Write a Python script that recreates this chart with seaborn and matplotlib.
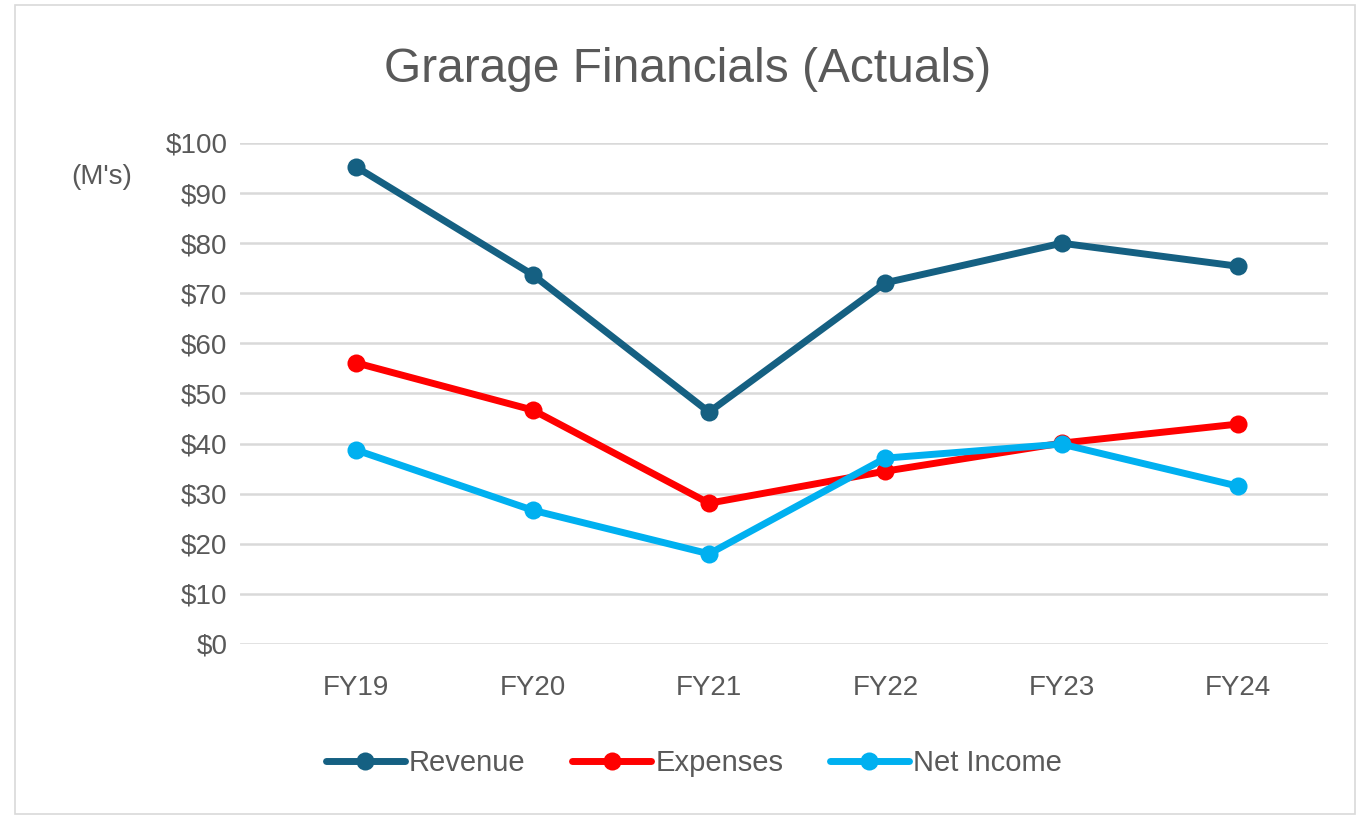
import pandas as pd
import matplotlib.pyplot as plt
import seaborn as sns
from matplotlib.patches import Rectangle

# Values, $M
years = ['FY19', 'FY20', 'FY21', 'FY22', 'FY23', 'FY24']
revenue = [95.2, 73.7, 46.3, 72.1, 80.0, 75.4]
expenses = [56.1, 46.7, 28.1, 34.5, 40.1, 43.9]
net_income = [38.7, 26.7, 18.0, 37.1, 39.9, 31.5]
series_names = ['Revenue', 'Expenses', 'Net Income']
colors = ['#156082', '#FF0000', '#00B0F0']
y_ticks = [0, 10, 20, 30, 40, 50, 60, 70, 80, 90, 100]

sns.set_theme(style='white')
plt.rcParams['font.family'] = ['Liberation Sans', 'DejaVu Sans']

df = pd.DataFrame({
    'Year': years * 3,
    'x': list(range(len(years))) * 3,
    'Value': revenue + expenses + net_income,
    'Series': [s for s in series_names for _ in years],
})

fig = plt.figure(figsize=(13.6, 8.17), dpi=100)
ax = fig.add_axes([240 / 1360, 1 - 644 / 817, 1088 / 1360, 501 / 817])

sns.lineplot(data=df, x='x', y='Value', hue='Series', palette=colors,
             marker='o', markersize=13, markeredgewidth=0, linewidth=5,
             ax=ax, legend=False, zorder=3)

ax.set_xlim(-0.66, 5.51)
ax.set_ylim(0, 100)
ax.set_yticks(y_ticks)
ax.set_yticklabels([f'${v}' for v in y_ticks], color='#595959', fontsize=20)
ax.set_xticks(range(len(years)))
ax.set_xticklabels(years, color='#595959', fontsize=20)
ax.tick_params(axis='x', pad=22, length=0)
ax.tick_params(axis='y', pad=9, length=0)
ax.grid(axis='y', color='#D9D9D9', linewidth=1.8, zorder=0)
ax.set_xlabel('')
ax.set_ylabel('')
for s in ax.spines.values():
    s.set_visible(False)

fig.text(688 / 1360, 1 - 70 / 817, 'Grarage Financials (Actuals)',
         ha='center', va='center', fontsize=34.5, color='#595959')
fig.text(102 / 1360, 1 - 177 / 817, "(M's)", ha='center', va='center',
         fontsize=20, color='#595959')

handles = [plt.Line2D([], [], color=c, marker='o', markersize=13,
                      markeredgewidth=0, linewidth=5) for c in colors]
leg = fig.legend(handles, series_names, loc='center', ncol=3,
                 bbox_to_anchor=(694 / 1360, 1 - 763 / 817), frameon=False,
                 fontsize=21, handlelength=2.7, handletextpad=0.15,
                 columnspacing=1.6)
for t in leg.get_texts():
    t.set_color('#595959')

fig.patches.append(Rectangle((15 / 1360, 0.004), 1340 / 1360, 1 - 8 / 817,
                             transform=fig.transFigure, fill=False,
                             edgecolor='#D9D9D9', linewidth=1.2))

fig.savefig('out.png', dpi=100, facecolor='white')
